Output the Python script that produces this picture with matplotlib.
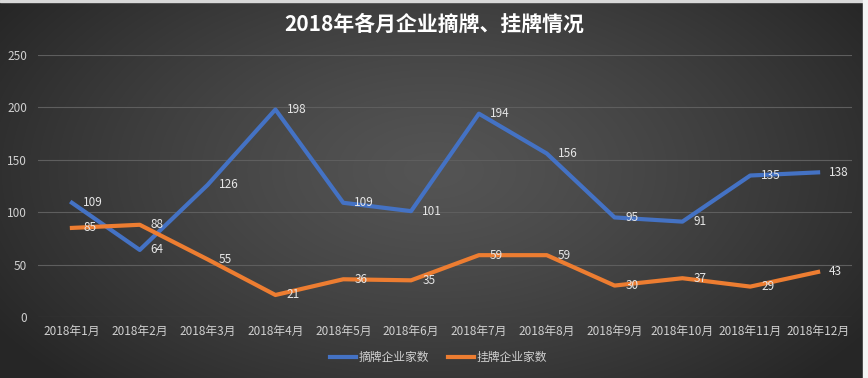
import numpy as np
import matplotlib.pyplot as plt
from matplotlib.patches import Rectangle

plt.rcParams['font.family'] = ['Noto Sans CJK SC', 'DejaVu Sans']

months = ['2018年%d月' % m for m in range(1, 13)]
delisted = [109, 64, 126, 198, 109, 101, 194, 156, 95, 91, 135, 138]
listed = [85, 88, 55, 21, 36, 35, 59, 59, 30, 37, 29, 43]
series_names = ['摘牌企业家数', '挂牌企业家数']
title = '2018年各月企业摘牌、挂牌情况'

fig = plt.figure(figsize=(8.68, 3.78), dpi=100)

# radial grey background
bg = fig.add_axes([0, 0, 1, 1], zorder=-10)
yy, xx = np.mgrid[0:378, 0:868]
r = np.sqrt(((xx - 434) / 520.0) ** 2 + ((yy - 170) / 300.0) ** 2)
r = np.clip(r, 0, 1)
c_in, c_out = 0.33, 0.15
shade = c_in + (c_out - c_in) * r ** 1.3
bg.imshow(np.dstack([shade, shade, shade]), aspect='auto', extent=[0, 868, 378, 0])
bg.add_patch(Rectangle((0, 0), 868, 2, color='#d8d8d8'))
bg.add_patch(Rectangle((863, 0), 5, 378, color='#f4f4f4'))
bg.set_xlim(0, 868)
bg.set_ylim(378, 0)
bg.axis('off')

ax = fig.add_axes([38 / 868, 1 - 317 / 378, 814 / 868, 262 / 378])
ax.set_facecolor('none')
x = np.arange(len(months))
ax.plot(x, delisted, color='#4472c4', lw=3, label=series_names[0])
ax.plot(x, listed, color='#ed7d31', lw=3, label=series_names[1])

for xi, v in zip(x, delisted):
    ax.annotate(str(v), (xi, v), xytext=(8, 0), textcoords='offset points',
                va='center', ha='left', color='#e6e6e6', fontsize=8.5)
for xi, v in zip(x, listed):
    ax.annotate(str(v), (xi, v), xytext=(8, 0), textcoords='offset points',
                va='center', ha='left', color='#e6e6e6', fontsize=8.5)

ax.set_xlim(-0.5, 11.5)
ax.set_ylim(0, 250)
ax.set_yticks(range(0, 251, 50))
ax.set_xticks(x)
ax.set_xticklabels(months)
ax.grid(axis='y', color='#5e5e5e', lw=0.8)
ax.set_axisbelow(True)
for s in ax.spines.values():
    s.set_visible(False)
ax.tick_params(length=0, colors='#d0d0d0', labelsize=8.5)
ax.tick_params(axis='y', pad=8)
ax.tick_params(axis='x', pad=6)

fig.text(0.5, 0.935, title, ha='center', va='center', color='white',
         fontsize=15, fontweight='bold')
fig.legend(loc='center', bbox_to_anchor=(0.505, 0.053), ncol=2, frameon=False,
           labelcolor='#d0d0d0', fontsize=8.5, handlelength=2.2, columnspacing=1.6,
           handletextpad=0.2)

fig.savefig('out.png', dpi=100)
